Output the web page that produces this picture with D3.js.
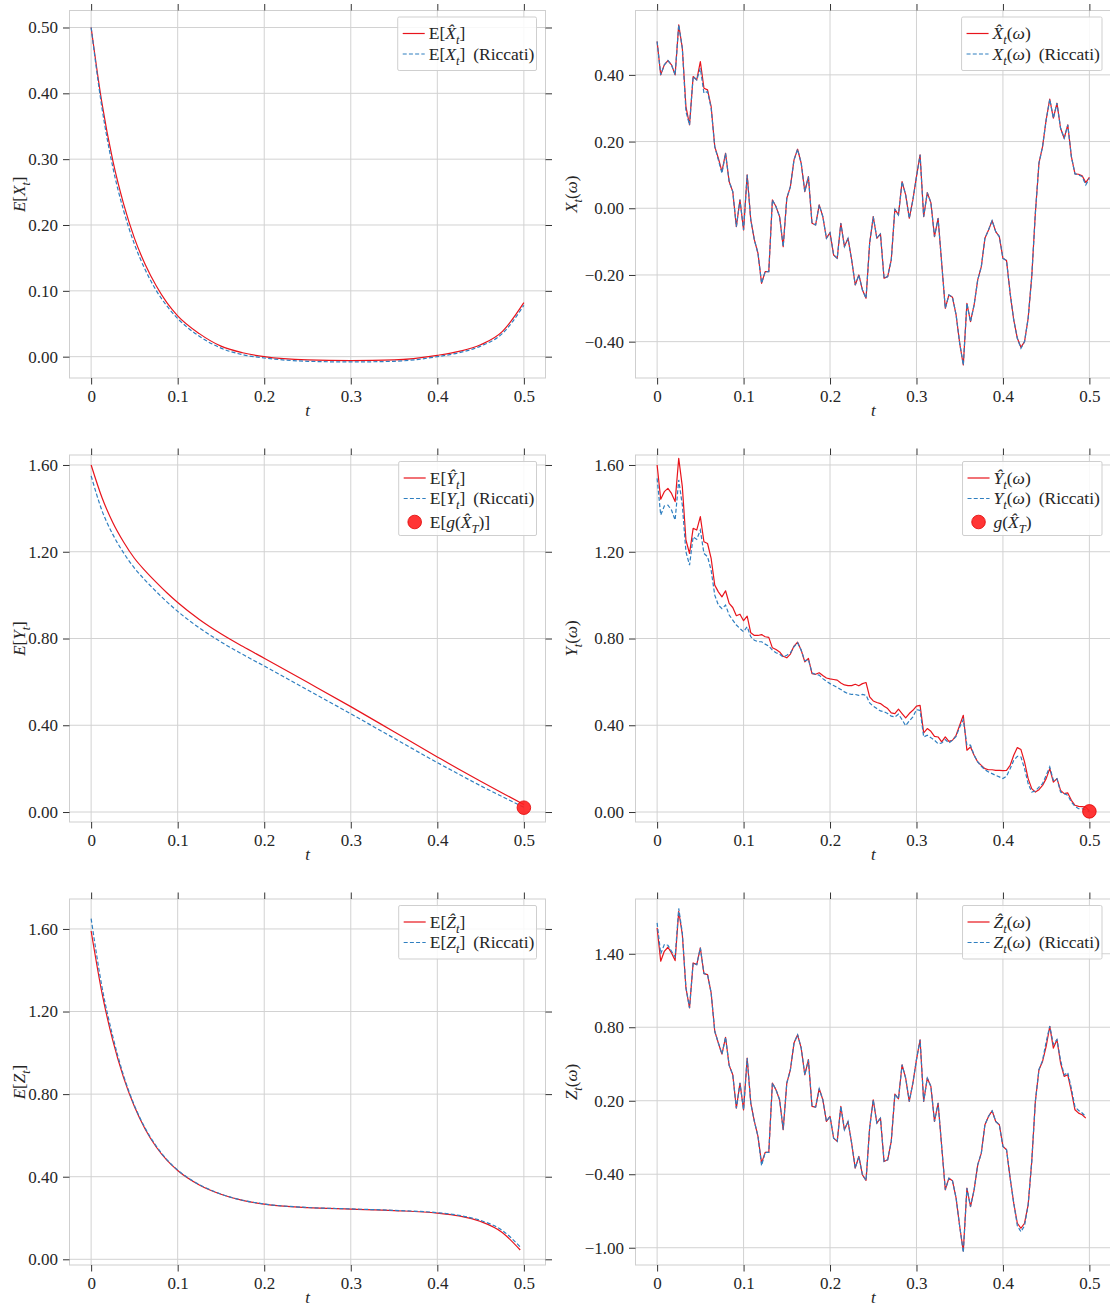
<!DOCTYPE html>
<html>
<head>
<meta charset="utf-8">
<script src="https://cdn.jsdelivr.net/npm/d3@7"></script>
<style>
  body { margin: 0; background: #fff; }
  svg, svg text { font-family: "Liberation Serif", "Times New Roman", serif; }
  svg text { fill: #262626; }
</style>
</head>
<body>
<svg id="fig" width="1110" height="1306"></svg>
<script>
// time grid of the simulated path (N steps on [0, T])
const N = 120, T = 0.5
const tGrid = d3.range(N + 1).map(i => i * T / N)

// time points where the mean curves were read
const tMean = [0, 0.0125, 0.025, 0.0375, 0.05, 0.0625, 0.075, 0.0875, 0.1, 0.125, 0.15, 0.175, 0.2, 0.25, 0.3, 0.35, 0.4, 0.425, 0.45, 0.475, 0.5]
const tMeanZ = [0, 0.0125, 0.025, 0.0375, 0.05, 0.0625, 0.075, 0.0875, 0.1, 0.125, 0.15, 0.175, 0.2, 0.25, 0.3, 0.35, 0.4, 0.425, 0.45, 0.475, 0.4958]

// mean curves
const meanXHat = [0.50, 0.385, 0.298, 0.232, 0.180, 0.140, 0.108, 0.082, 0.062, 0.035, 0.016, 0.006, 0.000, -0.005, -0.006, -0.005, 0.002, 0.008, 0.018, 0.038, 0.082]
const meanXRic = [0.50, 0.378, 0.288, 0.222, 0.171, 0.132, 0.101, 0.077, 0.058, 0.031, 0.013, 0.003, -0.002, -0.007, -0.008, -0.007, 0.000, 0.006, 0.016, 0.035, 0.078]
const meanYHat = [1.60, 1.45, 1.335, 1.245, 1.17, 1.112, 1.06, 1.011, 0.966, 0.888, 0.822, 0.764, 0.709, 0.598, 0.486, 0.37, 0.254, 0.197, 0.142, 0.088, 0.035]
const meanYRic = [1.55, 1.39, 1.28, 1.195, 1.125, 1.068, 1.017, 0.969, 0.925, 0.849, 0.784, 0.727, 0.673, 0.563, 0.453, 0.34, 0.228, 0.174, 0.121, 0.071, 0.022]
const meanGT = 0.02
const meanZHat = [1.59, 1.29, 1.06, 0.88, 0.74, 0.63, 0.545, 0.48, 0.43, 0.36, 0.315, 0.285, 0.267, 0.25, 0.243, 0.236, 0.224, 0.21, 0.183, 0.13, 0.045]
const meanZRic = [1.65, 1.32, 1.08, 0.89, 0.745, 0.635, 0.55, 0.483, 0.432, 0.362, 0.316, 0.286, 0.268, 0.251, 0.244, 0.237, 0.226, 0.213, 0.188, 0.14, 0.06]

// one sample path
const pathXHat = [0.50, 0.40, 0.43, 0.443, 0.43, 0.40, 0.55, 0.48, 0.305, 0.25,
  0.395, 0.385, 0.44, 0.36, 0.355, 0.305, 0.185, 0.15, 0.11, 0.165,
  0.08, 0.05, -0.055, 0.025, -0.065, 0.10, -0.035, -0.095, -0.135, -0.225,
  -0.19, -0.19, 0.025, 0.005, -0.025, -0.115, 0.03, 0.065, 0.145, 0.177,
  0.135, 0.05, 0.095, -0.045, -0.05, 0.01, -0.025, -0.09, -0.073, -0.14,
  -0.15, -0.045, -0.115, -0.09, -0.155, -0.23, -0.20, -0.245, -0.27, -0.105,
  -0.025, -0.09, -0.077, -0.21, -0.205, -0.155, -0.003, -0.02, 0.08, 0.04,
  -0.03, 0.025, 0.095, 0.16, -0.025, 0.047, 0.017, -0.085, -0.03, -0.165,
  -0.30, -0.26, -0.267, -0.32, -0.405, -0.47, -0.285, -0.34, -0.29, -0.215,
  -0.175, -0.09, -0.065, -0.037, -0.07, -0.085, -0.15, -0.157, -0.255, -0.335,
  -0.39, -0.417, -0.40, -0.33, -0.205, -0.015, 0.135, 0.185, 0.265, 0.327,
  0.27, 0.315, 0.24, 0.21, 0.25, 0.155, 0.103, 0.102, 0.097, 0.077, 0.093]
const pathXRic = [0.50, 0.40, 0.43, 0.443, 0.43, 0.40, 0.55, 0.48, 0.29, 0.25,
  0.395, 0.385, 0.42, 0.345, 0.35, 0.30, 0.185, 0.145, 0.105, 0.165,
  0.08, 0.05, -0.055, 0.025, -0.065, 0.10, -0.035, -0.095, -0.135, -0.225,
  -0.19, -0.19, 0.025, 0.005, -0.025, -0.115, 0.03, 0.065, 0.145, 0.177,
  0.135, 0.05, 0.095, -0.045, -0.05, 0.01, -0.025, -0.09, -0.073, -0.14,
  -0.15, -0.045, -0.115, -0.09, -0.155, -0.23, -0.20, -0.245, -0.27, -0.105,
  -0.025, -0.09, -0.077, -0.21, -0.205, -0.155, -0.003, -0.02, 0.08, 0.04,
  -0.03, 0.025, 0.095, 0.16, -0.025, 0.047, 0.017, -0.085, -0.03, -0.165,
  -0.30, -0.26, -0.267, -0.32, -0.405, -0.47, -0.285, -0.34, -0.29, -0.215,
  -0.175, -0.09, -0.065, -0.037, -0.07, -0.085, -0.15, -0.157, -0.255, -0.335,
  -0.39, -0.42, -0.40, -0.33, -0.205, -0.015, 0.135, 0.185, 0.265, 0.327,
  0.27, 0.315, 0.24, 0.21, 0.25, 0.155, 0.103, 0.10, 0.095, 0.07, 0.09]
const pathYHat = [1.60, 1.442, 1.477, 1.492, 1.469, 1.431, 1.631, 1.50, 1.254, 1.192,
  1.308, 1.30, 1.362, 1.246, 1.238, 1.169, 1.046, 1.015, 0.992, 1.02,
  0.962, 0.943, 0.905, 0.912, 0.882, 0.903, 0.826, 0.814, 0.814, 0.818,
  0.808, 0.805, 0.757, 0.749, 0.738, 0.718, 0.711, 0.728, 0.765, 0.783,
  0.746, 0.692, 0.708, 0.638, 0.635, 0.642, 0.629, 0.618, 0.614, 0.611,
  0.608, 0.595, 0.586, 0.583, 0.583, 0.589, 0.582, 0.592, 0.597, 0.531,
  0.512, 0.505, 0.50, 0.488, 0.477, 0.457, 0.454, 0.474, 0.454, 0.434,
  0.454, 0.469, 0.488, 0.492, 0.365, 0.385, 0.372, 0.349, 0.346, 0.323,
  0.346, 0.326, 0.331, 0.354, 0.40, 0.446, 0.285, 0.30, 0.262, 0.231,
  0.215, 0.20, 0.195, 0.195, 0.192, 0.192, 0.191, 0.192, 0.215, 0.262,
  0.297, 0.288, 0.231, 0.154, 0.108, 0.092, 0.103, 0.123, 0.154, 0.20,
  0.138, 0.154, 0.10, 0.085, 0.088, 0.054, 0.031, 0.026, 0.025, 0.023, 0.005]
const pathYRic = [1.538, 1.369, 1.411, 1.415, 1.392, 1.346, 1.531, 1.415, 1.20, 1.138,
  1.269, 1.257, 1.30, 1.192, 1.177, 1.115, 1.00, 0.954, 0.938, 0.954,
  0.908, 0.885, 0.862, 0.846, 0.831, 0.854, 0.808, 0.792, 0.785, 0.785,
  0.774, 0.765, 0.746, 0.734, 0.728, 0.715, 0.723, 0.734, 0.762, 0.78,
  0.746, 0.697, 0.703, 0.642, 0.634, 0.631, 0.615, 0.603, 0.592, 0.583,
  0.574, 0.565, 0.554, 0.546, 0.542, 0.542, 0.538, 0.542, 0.538, 0.503,
  0.488, 0.477, 0.466, 0.462, 0.454, 0.442, 0.438, 0.451, 0.426, 0.398,
  0.42, 0.438, 0.472, 0.469, 0.346, 0.354, 0.343, 0.331, 0.315, 0.318,
  0.334, 0.318, 0.331, 0.349, 0.392, 0.426, 0.308, 0.308, 0.262, 0.231,
  0.211, 0.195, 0.185, 0.177, 0.169, 0.162, 0.154, 0.165, 0.20, 0.238,
  0.257, 0.254, 0.20, 0.131, 0.092, 0.097, 0.115, 0.131, 0.169, 0.208,
  0.146, 0.154, 0.092, 0.085, 0.077, 0.046, 0.026, 0.015, 0.015, 0.011, 0.0]
const pathGT = 0.003
const pathZHat = [1.611, 1.339, 1.42, 1.453, 1.407, 1.344, 1.747, 1.557, 1.121, 0.957,
  1.325, 1.311, 1.448, 1.238, 1.23, 1.08, 0.767, 0.671, 0.581, 0.718,
  0.489, 0.412, 0.14, 0.344, 0.126, 0.549, 0.181, 0.031, -0.091, -0.309,
  -0.222, -0.222, 0.344, 0.29, 0.208, -0.037, 0.344, 0.453, 0.671, 0.739,
  0.63, 0.412, 0.535, 0.154, 0.148, 0.298, 0.208, 0.031, 0.072, -0.105,
  -0.132, 0.154, -0.037, 0.031, -0.146, -0.35, -0.255, -0.405, -0.45, -0.02,
  0.208, 0.017, 0.058, -0.296, -0.282, -0.132, 0.254, 0.216, 0.494, 0.385,
  0.195, 0.344, 0.535, 0.698, 0.195, 0.385, 0.317, 0.031, 0.181, -0.173,
  -0.527, -0.432, -0.454, -0.595, -0.827, -1.026, -0.514, -0.664, -0.527, -0.323,
  -0.228, 0.004, 0.072, 0.118, 0.031, 0.004, -0.173, -0.2, -0.432, -0.636,
  -0.8, -0.841, -0.8, -0.65, -0.296, 0.195, 0.453, 0.521, 0.644, 0.807,
  0.63, 0.698, 0.508, 0.399, 0.412, 0.276, 0.126, 0.099, 0.086, 0.058]
const pathZRic = [1.652, 1.40, 1.475, 1.47, 1.42, 1.375, 1.77, 1.57, 1.121, 0.957,
  1.325, 1.311, 1.448, 1.238, 1.23, 1.08, 0.767, 0.671, 0.581, 0.718,
  0.489, 0.412, 0.14, 0.344, 0.126, 0.549, 0.181, 0.031, -0.091, -0.33,
  -0.222, -0.222, 0.344, 0.29, 0.208, -0.037, 0.344, 0.453, 0.671, 0.739,
  0.63, 0.412, 0.535, 0.154, 0.148, 0.298, 0.208, 0.031, 0.072, -0.105,
  -0.132, 0.154, -0.037, 0.031, -0.146, -0.35, -0.255, -0.405, -0.45, -0.02,
  0.208, 0.017, 0.058, -0.296, -0.282, -0.132, 0.254, 0.216, 0.494, 0.385,
  0.195, 0.344, 0.535, 0.698, 0.195, 0.385, 0.317, 0.031, 0.181, -0.173,
  -0.527, -0.432, -0.454, -0.595, -0.827, -1.04, -0.514, -0.664, -0.527, -0.323,
  -0.228, 0.004, 0.072, 0.118, 0.031, 0.004, -0.173, -0.2, -0.432, -0.636,
  -0.82, -0.87, -0.82, -0.65, -0.296, 0.195, 0.453, 0.53, 0.68, 0.81,
  0.66, 0.70, 0.53, 0.41, 0.43, 0.30, 0.15, 0.12, 0.10, 0.07]

// tick values
const xTicks = [0, 0.1, 0.2, 0.3, 0.4, 0.5]
const yTicksMeanX = [0, 0.1, 0.2, 0.3, 0.4, 0.5]
const yTicksPathX = [-0.4, -0.2, 0, 0.2, 0.4]
const yTicksY = [0, 0.4, 0.8, 1.2, 1.6]
const yTicksMeanZ = [0, 0.4, 0.8, 1.2, 1.6]
const yTicksPathZ = [-1.0, -0.4, 0.2, 0.8, 1.4]

// math labels: [text, style] with r = roman, i = italic, s = subscript, g = gap before
const H = '\u0302'
const RIC = ['(Riccati)', 'g']
const lab = {
  exHat: [['E[', 'r'], ['X' + H, 'i'], ['t', 's'], [']', 'r']],
  exRic: [['E[', 'r'], ['X', 'i'], ['t', 's'], [']', 'r'], RIC],
  pxHat: [['X' + H, 'i'], ['t', 's'], ['(', 'r'], ['ω', 'i'], [')', 'r']],
  pxRic: [['X', 'i'], ['t', 's'], ['(', 'r'], ['ω', 'i'], [')', 'r'], RIC],
  eyHat: [['E[', 'r'], ['Y' + H, 'i'], ['t', 's'], [']', 'r']],
  eyRic: [['E[', 'r'], ['Y', 'i'], ['t', 's'], [']', 'r'], RIC],
  eg: [['E[', 'r'], ['g', 'i'], ['(', 'r'], ['X' + H, 'i'], ['T', 's'], [')]', 'r']],
  pyHat: [['Y' + H, 'i'], ['t', 's'], ['(', 'r'], ['ω', 'i'], [')', 'r']],
  pyRic: [['Y', 'i'], ['t', 's'], ['(', 'r'], ['ω', 'i'], [')', 'r'], RIC],
  g: [['g', 'i'], ['(', 'r'], ['X' + H, 'i'], ['T', 's'], [')', 'r']],
  ezHat: [['E[', 'r'], ['Z' + H, 'i'], ['t', 's'], [']', 'r']],
  ezRic: [['E[', 'r'], ['Z', 'i'], ['t', 's'], [']', 'r'], RIC],
  pzHat: [['Z' + H, 'i'], ['t', 's'], ['(', 'r'], ['ω', 'i'], [')', 'r']],
  pzRic: [['Z', 'i'], ['t', 's'], ['(', 'r'], ['ω', 'i'], [')', 'r'], RIC],
  yEX: [['E', 'i'], ['[', 'r'], ['X', 'i'], ['t', 's'], [']', 'r']],
  yEY: [['E', 'i'], ['[', 'r'], ['Y', 'i'], ['t', 's'], [']', 'r']],
  yEZ: [['E', 'i'], ['[', 'r'], ['Z', 'i'], ['t', 's'], [']', 'r']],
  yPX: [['X', 'i'], ['t', 's'], ['(', 'r'], ['ω', 'i'], [')', 'r']],
  yPY: [['Y', 'i'], ['t', 's'], ['(', 'r'], ['ω', 'i'], [')', 'r']],
  yPZ: [['Z', 'i'], ['t', 's'], ['(', 'r'], ['ω', 'i'], [')', 'r']]
}

const RED = '#e8141c', BLUE = '#2f7fc0'
const FS = 17, LFS = 17.5
const cols = [[69.5, 545.5], [635.5, 1111]]
const rows = [[10.5, 378], [455, 822], [899, 1265]]

const panels = [
  { c: 0, r: 0, yDom: [-0.0324, 0.5258], yTicks: yTicksMeanX, t1: tMean, hat: meanXHat, ric: meanXRic, smooth: true,
    leg: [lab.exHat, lab.exRic], ylab: lab.yEX },
  { c: 1, r: 0, yDom: [-0.509, 0.593], yTicks: yTicksPathX, t1: tGrid, hat: pathXHat, ric: pathXRic,
    leg: [lab.pxHat, lab.pxRic], ylab: lab.yPX },
  { c: 0, r: 1, yDom: [-0.046, 1.646], yTicks: yTicksY, t1: tMean, hat: meanYHat, ric: meanYRic, smooth: true, dot: meanGT,
    leg: [lab.eyHat, lab.eyRic, lab.eg], ylab: lab.yEY },
  { c: 1, r: 1, yDom: [-0.046, 1.646], yTicks: yTicksY, t1: tGrid, hat: pathYHat, ric: pathYRic, dot: pathGT,
    leg: [lab.pyHat, lab.pyRic, lab.g], ylab: lab.yPY },
  { c: 0, r: 2, yDom: [-0.0276, 1.745], yTicks: yTicksMeanZ, t1: tMeanZ, hat: meanZHat, ric: meanZRic, smooth: true,
    leg: [lab.ezHat, lab.ezRic], ylab: lab.yEZ },
  { c: 1, r: 2, yDom: [-1.141, 1.847], yTicks: yTicksPathZ, t1: tGrid.slice(0, N), hat: pathZHat, ric: pathZRic,
    leg: [lab.pzHat, lab.pzRic], ylab: lab.yPZ }
]

const svg = d3.select('#fig')

function mathText(sel, parts, size) {
  let shift = 0
  parts.forEach(([txt, st]) => {
    const target = st === 's' ? size * 0.3 : 0
    const ts = sel.append('tspan').text(txt)
    if (target !== shift) ts.attr('dy', target - shift)
    shift = target
    if (st === 'i' || st === 's') ts.style('font-style', 'italic')
    if (st === 's') ts.style('font-size', (size * 0.72) + 'px')
    if (st === 'g') ts.attr('dx', size * 0.45)
  })
  return sel
}

function drawPanel(p) {
  const [x0, x1] = cols[p.c], [y0, y1] = rows[p.r]
  const x = d3.scaleLinear().domain([-0.025, 0.525]).range([x0, x1])
  const y = d3.scaleLinear().domain(p.yDom).range([y1, y0])
  const g = svg.append('g')

  // grid
  g.selectAll('.gx').data(xTicks).enter().append('line')
    .attr('x1', d => x(d)).attr('x2', d => x(d)).attr('y1', y0).attr('y2', y1)
    .attr('stroke', '#d2d2d2').attr('stroke-width', 1)
  g.selectAll('.gy').data(p.yTicks).enter().append('line')
    .attr('x1', x0).attr('x2', x1).attr('y1', d => y(d)).attr('y2', d => y(d))
    .attr('stroke', '#d2d2d2').attr('stroke-width', 1)

  // frame
  g.append('rect').attr('x', x0).attr('y', y0).attr('width', x1 - x0).attr('height', y1 - y0)
    .attr('fill', 'none').attr('stroke', '#cfcfcf').attr('stroke-width', 1)

  // lines
  const curve = p.smooth ? d3.curveMonotoneX : d3.curveLinear
  const line = d3.line().x((d, i) => x(p.t1[i])).y(d => y(d)).curve(curve)
  g.append('path').datum(p.hat).attr('d', line)
    .attr('fill', 'none').attr('stroke', RED).attr('stroke-width', 1.2).attr('stroke-linejoin', 'round')
  g.append('path').datum(p.ric).attr('d', line)
    .attr('fill', 'none').attr('stroke', BLUE).attr('stroke-width', 1.2).attr('stroke-dasharray', '4,2.2')

  if (p.dot !== undefined) {
    g.append('circle').attr('cx', x(T)).attr('cy', y(p.dot)).attr('r', 6.8)
      .attr('fill', '#ff1f1f').attr('fill-opacity', 0.9).attr('stroke', '#e00000').attr('stroke-width', 0.8)
  }

  // axes on all four sides, ticks outward
  const yFmt = d3.format('.2f')
  const xFmt = d => d === 0 ? '0' : d3.format('.1f')(d)
  const axes = [
    [d3.axisLeft(y).tickValues(p.yTicks).tickFormat(yFmt), `translate(${x0},0)`],
    [d3.axisRight(y).tickValues(p.yTicks).tickFormat(''), `translate(${x1},0)`],
    [d3.axisBottom(x).tickValues(xTicks).tickFormat(xFmt), `translate(0,${y1})`],
    [d3.axisTop(x).tickValues(xTicks).tickFormat(''), `translate(0,${y0})`]
  ]
  axes.forEach(([ax, tr]) => {
    const a = g.append('g').attr('transform', tr).call(ax.tickSize(6.5).tickPadding(5))
    a.select('.domain').remove()
    a.attr('font-family', null).attr('font-size', null)
    a.selectAll('line').attr('stroke', '#333').attr('stroke-width', 1)
    a.selectAll('text').style('font-size', FS + 'px').attr('fill', '#262626')
  })

  // axis labels
  g.append('text').attr('x', (x0 + x1) / 2).attr('y', y1 + 38)
    .attr('text-anchor', 'middle').style('font-size', FS + 'px').style('font-style', 'italic').text('t')
  const ylx = p.c === 0 ? 25 : 577
  const yl = g.append('text').attr('transform', `translate(${ylx},${(y0 + y1) / 2}) rotate(-90)`)
    .attr('text-anchor', 'middle').style('font-size', FS + 'px')
  mathText(yl, p.ylab, FS)

  // legend
  const lg = g.append('g')
  const box = lg.append('rect')
  let cy = 0
  const centers = []
  const texts = []
  p.leg.forEach((parts, i) => {
    cy += i === 0 ? 16.5 : (i === 2 ? 23.5 : 20.5)
    centers.push(cy)
    const tx = lg.append('text').attr('y', cy + 5.5).style('font-size', LFS + 'px')
    mathText(tx, parts, LFS)
    texts.push(tx)
  })
  const maxW = d3.max(texts, t => t.node().getComputedTextLength())
  const bw = 31 + maxW + 10
  const bh = centers[centers.length - 1] + (p.leg.length === 3 ? 13.5 : 16.5)
  const bx = x1 - 9 - bw, by = y0 + 6.5
  lg.attr('transform', `translate(${bx},${by})`)
  box.attr('x', 0).attr('y', 0).attr('width', bw).attr('height', bh).attr('rx', 1.5)
    .attr('fill', '#fff').attr('fill-opacity', 0.85).attr('stroke', '#cfcfcf').attr('stroke-width', 1)
  texts.forEach(t => t.attr('x', 31))
  lg.append('line').attr('x1', 5).attr('x2', 27).attr('y1', centers[0]).attr('y2', centers[0])
    .attr('stroke', RED).attr('stroke-width', 1.2)
  lg.append('line').attr('x1', 5).attr('x2', 27).attr('y1', centers[1]).attr('y2', centers[1])
    .attr('stroke', BLUE).attr('stroke-width', 1.2).attr('stroke-dasharray', '4,2.2')
  if (p.leg.length === 3) {
    lg.append('circle').attr('cx', 16).attr('cy', centers[2]).attr('r', 6.8)
      .attr('fill', '#ff1f1f').attr('fill-opacity', 0.9).attr('stroke', '#e00000').attr('stroke-width', 0.8)
  }
}

panels.forEach(drawPanel)
</script>
</body>
</html>
